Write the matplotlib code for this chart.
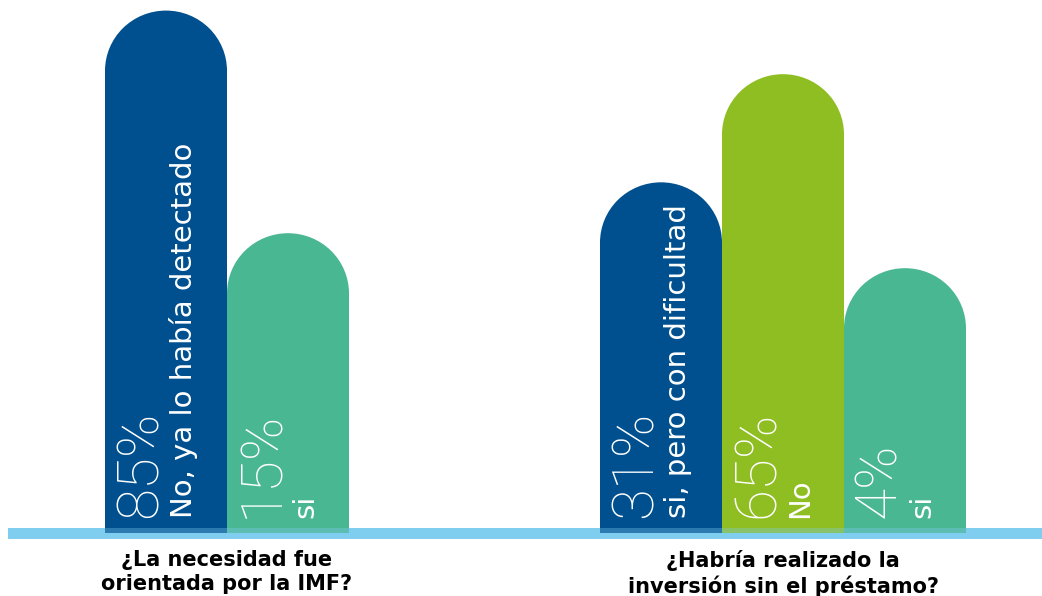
import matplotlib.pyplot as plt
from matplotlib.patches import Ellipse, Rectangle

# answers for the two questions
questions = ['¿La necesidad fue\norientada por la IMF?',
             '¿Habría realizado la\ninversión sin el préstamo?']
group1_labels = ['No, ya lo había detectado', 'si']
group1_values = [85, 15]
group2_labels = ['si, pero con dificultad', 'No', 'si']
group2_values = [31, 65, 4]

blue = '#00508f'
green = '#4ab793'
lime = '#8fbe22'
band = '#7fcdef'

group1_colors = [blue, green]
group2_colors = [blue, lime, green]

# layout (x in figure pixels, y in percent units)
W, H = 1042, 596
bar_w = 122
g1_x = [166, 288]
g2_x = [661, 783, 905]
base = -78.6          # bottom of the bars, room left for the text
px_per_unit = 3.223   # vertical scale
base_px = 530
ytop = base + (base_px + 8) / px_per_unit
ybot = base - (H - base_px) / px_per_unit
r_y = (bar_w / 2) / px_per_unit   # cap radius in y units

fig = plt.figure(figsize=(W / 100, H / 100), dpi=100)
ax = fig.add_axes([0, 0, 1, 1])
ax.set_xlim(0, W)
ax.set_ylim(ybot, ytop)
ax.axis('off')


def rounded_bar(x, v, color, label):
    top = v - r_y
    bottom = base - 2 / px_per_unit
    ax.bar(x, top - bottom, bottom=bottom, width=bar_w, color=color,
           linewidth=0, zorder=2)
    ax.add_patch(Ellipse((x, top), bar_w, 2 * r_y, color=color,
                         linewidth=0, zorder=2))
    ty = base + 13 / px_per_unit
    ax.text(x - 25, ty, f'{v}%', rotation=90, ha='center', va='bottom',
            color='white', fontsize=42, family=['Roboto', 'DejaVu Sans'],
            fontweight='light', zorder=4)
    ax.text(x + 17, ty, label, rotation=90, ha='center', va='bottom',
            color='white', fontsize=21, family='DejaVu Sans', zorder=4)


for x, v, c, lab in zip(g1_x, group1_values, group1_colors, group1_labels):
    rounded_bar(x, v, c, lab)
for x, v, c, lab in zip(g2_x, group2_values, group2_colors, group2_labels):
    rounded_bar(x, v, c, lab)

# light blue floor line, over the foot of the bars
ax.add_patch(Rectangle((8, base - 8 / px_per_unit), W - 8, 11 / px_per_unit,
                       color=band, linewidth=0, zorder=1))
ax.add_patch(Rectangle((8, base - 2 / px_per_unit), W - 8, 5 / px_per_unit,
                       color=band, alpha=0.35, linewidth=0, zorder=3))

title_y = base - 19 / px_per_unit
ax.text(227, title_y, questions[0], ha='center', va='top', fontsize=15,
        fontweight='bold', family='DejaVu Sans', linespacing=1.3)
ax.text(783, title_y, questions[1], ha='center', va='top', fontsize=15,
        fontweight='bold', family='DejaVu Sans', linespacing=1.3)

plt.savefig('out.png', dpi=100)
